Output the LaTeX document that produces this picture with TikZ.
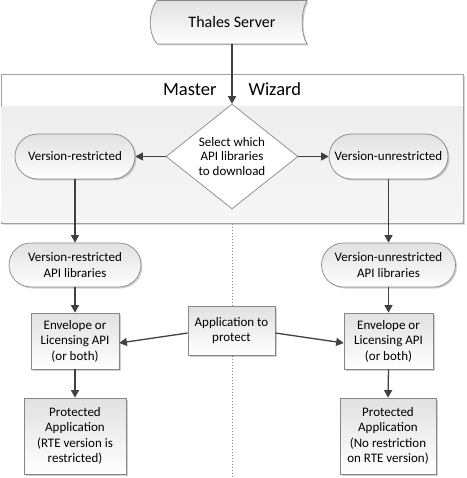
\documentclass[tikz,border=0pt]{standalone}
\usepackage{fontspec}
\setmainfont{Carlito}
\usetikzlibrary{shapes.geometric,shapes.misc,arrows.meta,shadows}
\definecolor{bordergray}{RGB}{135,135,135}
\definecolor{framegray}{RGB}{160,160,160}
\definecolor{arrowgray}{RGB}{64,64,64}
\definecolor{boxgray}{RGB}{225,225,225}
\definecolor{bodygray}{RGB}{238,238,238}
\begin{document}
\begin{tikzpicture}[x=1pt,y=-1pt,
  txt/.style={font=\fontsize{13}{15.5}\selectfont, align=center},
  shade/.style={drop shadow={shadow xshift=1.5pt,shadow yshift=-1.5pt,fill=black,opacity=0.18}},
  box/.style={txt, draw=bordergray, line width=0.7pt, top color=boxgray, bottom color=white, inner sep=0pt, shade},
  stad/.style={box, rounded rectangle},
  rectbox/.style={box, rectangle},
  arr/.style={draw=arrowgray, line width=1.3pt, -{Triangle[length=7.5pt,width=8pt]}},
]
\useasboundingbox (0,0) rectangle (466,478);
% frame
\fill[black,opacity=0.15] (3,76) rectangle (465,225);
\draw[framegray, line width=0.7pt, fill=white] (1,74) rectangle (463,223);
\fill[top color=bodygray, bottom color=bodygray!55] (1.4,107) rectangle (462.6,222.6);
\node[font=\fontsize{18.5}{22}\selectfont, anchor=base east] (mt) at (220,96) {Master};
\node[font=\fontsize{18.5}{22}\selectfont, anchor=base west] (wt) at (245,96) {Wizard};
% dotted divider
\coordinate (d1) at (232,223.5);
\coordinate (d2) at (232,478);
\draw[bordergray, dotted, line width=1pt] (d1) -- (d2);
% server
\node[txt, font=\fontsize{16}{19}\selectfont, minimum width=150pt, minimum height=43pt, inner sep=0pt] (srv) at (232,22) {Thales Server};
\draw[bordergray, line width=0.7pt, top color=boxgray, bottom color=white, shade]
  (157,0.5) -- (307,0.5) .. controls (300.5,12) and (300.5,33) .. (307,44)
  -- (157,44) .. controls (148,33) and (148,12) .. (157,0.5) -- cycle;
\node[txt, font=\fontsize{16}{19}\selectfont] at (srv.center) {Thales Server};
% decision
\node[txt, diamond, draw=bordergray, line width=0.7pt, fill=white, minimum width=132pt, minimum height=103pt, inner sep=0pt, font=\fontsize{13}{14.5}\selectfont] (dia) at (232,156.5) {Select which\\API libraries\\to download};
\node[stad, minimum width=120pt, minimum height=45pt] (vr) at (75,156.5) {Version-restricted};
\node[stad, minimum width=119pt, minimum height=45pt] (vu) at (388.5,156.5) {Version-unrestricted};
\node[stad, minimum width=132pt, minimum height=44pt] (vrl) at (75,265) {Version-restricted\\API libraries};
\node[stad, minimum width=134pt, minimum height=44pt] (vul) at (388.5,265) {Version-unrestricted\\API libraries};
\node[rectbox, minimum width=88pt, minimum height=56pt] (el) at (75,341) {Envelope or\\Licensing API\\(or both)};
\node[rectbox, minimum width=89pt, minimum height=56pt] (eu) at (388.5,341) {Envelope or\\Licensing API\\(or both)};
\node[rectbox, minimum width=87pt, minimum height=49pt] (app) at (231.5,330.5) {Application to\\protect};
\node[rectbox, minimum width=102pt, minimum height=76pt] (pl) at (75,436) {Protected\\Application\\(RTE version is\\restricted)};
\node[rectbox, minimum width=96pt, minimum height=76pt] (pu) at (388,436) {Protected\\Application\\(No restriction\\on RTE version)};
% connectors
\draw[arr] (srv.south) -- (dia.north);
\draw[arr] (dia.west) -- (vr.east);
\draw[arr] (dia.east) -- (vu.west);
\draw[arr] (vr.south) -- (vrl.north);
\draw[arr] (vu.south) -- (vul.north);
\draw[arr] (vrl.south) -- (el.north);
\draw[arr] (vul.south) -- (eu.north);
\draw[arr] ([yshift=-2.5pt]app.west) -- ([yshift=-2pt]el.east);
\draw[arr] ([yshift=-2.5pt]app.east) -- ([yshift=-2pt]eu.west);
\draw[arr] (el.south) -- (pl.north);
\draw[arr] (eu.south) -- (pu.north);
\end{tikzpicture}
\end{document}
